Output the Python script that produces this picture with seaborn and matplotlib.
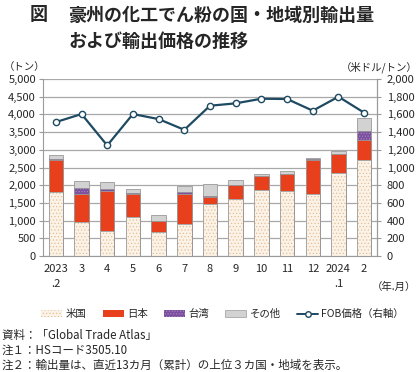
import matplotlib
matplotlib.use("Agg")
import matplotlib.pyplot as plt
import seaborn as sns
import numpy as np
from matplotlib.patches import Patch
from matplotlib.lines import Line2D

months = ["2023\n.2", "3", "4", "5", "6", "7", "8", "9", "10", "11", "12", "2024\n.1", "2"]
usa = [1800, 955, 710, 1105, 690, 895, 1455, 1605, 1858, 1840, 1745, 2340, 2725]
japan = [905, 790, 1140, 650, 290, 870, 205, 395, 415, 470, 970, 535, 565]
taiwan = [40, 190, 40, 30, 5, 40, 30, 10, 0, 15, 15, 0, 245]
others = [105, 170, 195, 95, 160, 160, 330, 140, 40, 80, 45, 85, 370]
fob = [1513, 1604, 1249, 1604, 1547, 1426, 1698, 1725, 1777, 1774, 1642, 1800, 1619]

left_ticks = list(range(0, 5001, 500))
right_ticks = list(range(0, 2001, 200))

sns.set_theme(style="white")
plt.rcParams["font.family"] = ["Noto Sans CJK JP", "DejaVu Sans"]
plt.rcParams["hatch.linewidth"] = 0.5

C_US = "#fcf3e8"
C_US_DOT = "#e4bf94"
C_JP = "#e8401c"
C_TW = "#7b4f9e"
C_OT = "#d2d2d2"
C_LINE = "#1e4a62"
EDGE = "#9a9a9a"

fig = plt.figure(figsize=(4.2, 3.72), dpi=100)
ax = fig.add_axes([43/420, 1-256/372, 334/420, 177/372])

c1 = np.array(usa)
c2 = c1 + np.array(japan)
c3 = c2 + np.array(taiwan)
c4 = c3 + np.array(others)

W = 0.56
sns.barplot(x=months, y=c4, order=months, color=C_OT, saturation=1, width=W,
            edgecolor=EDGE, linewidth=0.6, ax=ax, zorder=2)
n0 = len(ax.patches)
sns.barplot(x=months, y=c3, order=months, color=C_TW, saturation=1, width=W,
            edgecolor=EDGE, linewidth=0.6, ax=ax, zorder=2)
for p in ax.patches[n0:]:
    p.set_hatch("......")
    p.set_edgecolor("#a98bc4")
    p.set_linewidth(0)
sns.barplot(x=months, y=c3, order=months, fill=False, saturation=1, width=W,
            edgecolor=EDGE, linewidth=0.6, ax=ax, zorder=2)
sns.barplot(x=months, y=c2, order=months, color=C_JP, saturation=1, width=W,
            edgecolor=EDGE, linewidth=0.6, ax=ax, zorder=2)
n3 = len(ax.patches)
sns.barplot(x=months, y=c1, order=months, color=C_US, saturation=1, width=W,
            edgecolor=C_US_DOT, linewidth=0, ax=ax, zorder=2)
for p in ax.patches[n3:]:
    p.set_hatch(".....")
    p.set_edgecolor(C_US_DOT)
    p.set_linewidth(0)
sns.barplot(x=months, y=c1, order=months, fill=False, saturation=1, width=W,
            edgecolor=EDGE, linewidth=0.6, ax=ax, zorder=2)

ax.set_ylim(0, 5000)
ax.set_xlim(-0.5, len(months) - 0.5)
ax.set_yticks(left_ticks)
ax.set_yticklabels([f"{v:,}" for v in left_ticks], fontsize=8)
ax.yaxis.grid(True, color="#a8a8a8", linewidth=0.9, zorder=0)
ax.set_axisbelow(True)
ax.set_xlabel("")
ax.set_ylabel("")
ax.set_xticks(range(len(months)))
ax.set_xticklabels(months, fontsize=8, linespacing=1.6)
ax.set_xticks(np.arange(-0.5, len(months), 1), minor=True)
ax.tick_params(axis="x", which="major", length=0, pad=6)
ax.tick_params(axis="x", which="minor", length=4, color=EDGE, width=0.8, direction="out")
ax.tick_params(axis="y", length=3, color=EDGE, width=0.8, pad=2)
ax.spines["top"].set_visible(False)
for s in ["left", "right", "bottom"]:
    ax.spines[s].set_color(EDGE)
    ax.spines[s].set_linewidth(0.8)

ax2 = ax.twinx()
sns.lineplot(x=list(range(len(months))), y=fob, ax=ax2, color=C_LINE, linewidth=1.6,
             marker="o", markersize=4.5, markerfacecolor="white",
             markeredgecolor=C_LINE, markeredgewidth=1.0, zorder=5)
ax2.set_ylim(0, 2000)
ax2.set_yticks(right_ticks)
ax2.set_yticklabels([f"{v:,}" for v in right_ticks], fontsize=8)
ax2.tick_params(axis="y", length=3, color=EDGE, width=0.8, pad=4)
ax2.set_ylabel("")
for s in ["top", "left", "bottom"]:
    ax2.spines[s].set_visible(False)
ax2.spines["right"].set_color(EDGE)
ax2.spines["right"].set_linewidth(0.8)
ax2.set_xlim(-0.5, len(months) - 0.5)

# Title
fig.text(30/420, 1-15/372, "図", fontsize=13, fontweight="bold", va="center", ha="left")
fig.text(68/420, 1-15/372, "豪州の化工でん粉の国・地域別輸出量", fontsize=13,
         fontweight="bold", va="center", ha="left")
fig.text(68/420, 1-41/372, "および輸出価格の推移", fontsize=13,
         fontweight="bold", va="center", ha="left")

fig.text(4/420, 1-67/372, "（トン）", fontsize=7.5, va="center", ha="left")
fig.text(418/420, 1-67/372, "（米ドル/トン）", fontsize=7.5, va="center", ha="right")
fig.text(416/420, 1-287/372, "（年.月）", fontsize=7.5, va="center", ha="right")

handles = [
    Patch(facecolor=C_US, edgecolor=C_US_DOT, hatch=".....", linewidth=0),
    Patch(facecolor=C_JP, edgecolor=C_JP, linewidth=0),
    Patch(facecolor=C_TW, edgecolor="#a98bc4", hatch="......", linewidth=0),
    Patch(facecolor=C_OT, edgecolor=EDGE, linewidth=0.5),
    Line2D([0], [0], color=C_LINE, linewidth=1.4, marker="o", markersize=4,
           markerfacecolor="white", markeredgecolor=C_LINE),
]
labels = ["米国", "日本", "台湾", "その他", "FOB価格（右軸）"]
fig.legend(handles, labels, loc="center", bbox_to_anchor=(0.53, 1-314/372), ncol=5,
           frameon=False, fontsize=7.5, handlelength=2.0, handleheight=0.6,
           handletextpad=0.3, columnspacing=1.6)

notes = ["資料：「Global Trade Atlas」", "注１：HSコード3505.10",
         "注２：輸出量は、直近13カ月（累計）の上位３カ国・地域を表示。"]
for i, t in enumerate(notes):
    fig.text(2/420, 1-(335 + 15*i)/372, t, fontsize=8.3, va="center", ha="left")

fig.savefig("out.png", dpi=100)
